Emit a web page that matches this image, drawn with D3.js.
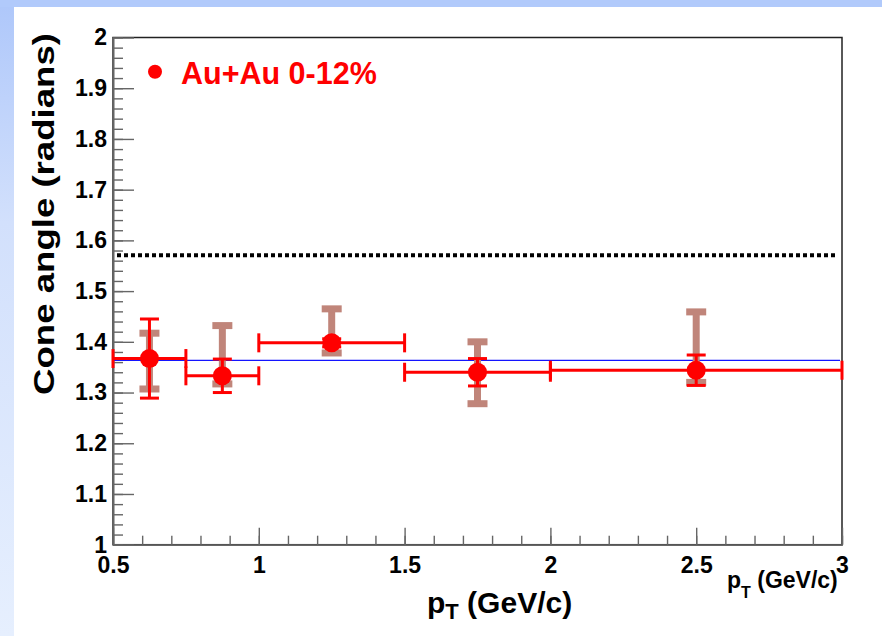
<!DOCTYPE html>
<html>
<head>
<meta charset="utf-8">
<script src="https://cdn.jsdelivr.net/npm/d3@7"></script>
<style>
  html, body { margin: 0; padding: 0; background: #fff; }
  svg { display: block; }
  text { font-family: "Liberation Sans", Arial, Helvetica, sans-serif; }
</style>
</head>
<body>
<svg id="chart" width="882" height="636"></svg>
<script>
// pT bins (GeV/c)
const ptCenter = [0.625, 0.875, 1.25, 1.75, 2.5];
const ptLow    = [0.5, 0.75, 1.0, 1.5, 2.0];
const ptHigh   = [0.75, 1.0, 1.5, 2.0, 3.0];
// cone angle (radians) with statistical and systematic uncertainties
const coneAngle = [1.367, 1.333, 1.398, 1.340, 1.344];
const statErr   = [0.078, 0.033, 0.008, 0.027, 0.030];
const sysUp     = [0.050, 0.099, 0.067, 0.060, 0.115];
const sysDown   = [0.060, 0.016, 0.020, 0.062, 0.024];
// reference lines
const meanAngle = 1.3636;
const halfPi = Math.PI / 2;
// axis ticks
const xTicks = [0.5, 1, 1.5, 2, 2.5, 3];
const xTickLabels = ["0.5", "1", "1.5", "2", "2.5", "3"];
const yTicks = [1, 1.1, 1.2, 1.3, 1.4, 1.5, 1.6, 1.7, 1.8, 1.9, 2];
const yTickLabels = ["1", "1.1", "1.2", "1.3", "1.4", "1.5", "1.6", "1.7", "1.8", "1.9", "2"];
const legendLabel = "Au+Au 0-12%";

const svg = d3.select("#chart");
const W = 882, H = 636;

// slide-style background: bluish border strips around a white canvas
const defs = svg.append("defs");
const grad = defs.append("linearGradient").attr("id", "bg").attr("x1", 0).attr("y1", 0).attr("x2", 0).attr("y2", 1);
grad.append("stop").attr("offset", "0%").attr("stop-color", "#aec7fa");
grad.append("stop").attr("offset", "35%").attr("stop-color", "#d2e0fc");
grad.append("stop").attr("offset", "100%").attr("stop-color", "#e6effe");
svg.append("rect").attr("width", W).attr("height", H).attr("fill", "url(#bg)");
svg.append("rect").attr("x", 0).attr("y", 0).attr("width", W).attr("height", 7).attr("fill", "#b1cafb");
svg.append("rect").attr("x", 14).attr("y", 7).attr("width", W - 14).attr("height", H - 7).attr("fill", "#ffffff");

const plotL = 113, plotR = 842, plotT = 37.5, plotB = 544.7;
const x = d3.scaleLinear().domain([0.5, 3]).range([plotL, plotR]);
const y = d3.scaleLinear().domain([1, 2]).range([plotB, plotT]);

// frame
svg.append("rect")
  .attr("x", plotL).attr("y", plotT).attr("width", plotR - plotL).attr("height", plotB - plotT)
  .attr("fill", "none").attr("stroke", "#222").attr("stroke-width", 1.5);

const axisColor = "#666";
function styleAxis(g) {
  g.select(".domain").attr("stroke", axisColor).attr("stroke-width", 1.6);
  g.selectAll(".tick line").attr("stroke", axisColor).attr("stroke-width", 1.4);
  g.selectAll(".tick text").attr("fill", "#000")
    .attr("font-size", 23).attr("font-weight", "bold");
}

// y axis: minor then major ticks, pointing inward
svg.append("g").attr("transform", `translate(${plotL},0)`)
  .call(d3.axisLeft(y).tickValues(d3.range(1, 2.0001, 0.02)).tickSize(-10).tickSizeOuter(0).tickFormat(""))
  .call(styleAxis);
svg.append("g").attr("transform", `translate(${plotL},0)`)
  .call(d3.axisLeft(y).tickValues(yTicks).tickSize(-21).tickSizeOuter(0).tickPadding(6)
    .tickFormat((d, i) => yTickLabels[i]))
  .call(styleAxis);

// x axis
svg.append("g").attr("transform", `translate(0,${plotB})`)
  .call(d3.axisBottom(x).tickValues(d3.range(0.5, 3.0001, 0.1)).tickSize(-9).tickSizeOuter(0).tickFormat(""))
  .call(styleAxis);
svg.append("g").attr("transform", `translate(0,${plotB})`)
  .call(d3.axisBottom(x).tickValues(xTicks).tickSize(-17).tickSizeOuter(0).tickPadding(12)
    .tickFormat((d, i) => xTickLabels[i]))
  .call(styleAxis);

// pi/2 reference (dotted) and mean (blue)
svg.append("line")
  .attr("x1", x(0.5) + 4).attr("x2", x(3) - 4).attr("y1", y(halfPi)).attr("y2", y(halfPi))
  .attr("stroke", "#000").attr("stroke-width", 4).attr("stroke-dasharray", "4,3");
svg.append("line")
  .attr("x1", x(0.5)).attr("x2", x(3) - 2).attr("y1", y(meanAngle)).attr("y2", y(meanAngle))
  .attr("stroke", "#1414ff").attr("stroke-width", 1.2);

const pts = ptCenter.map((p, i) => ({
  p, lo: ptLow[i], hi: ptHigh[i], v: coneAngle[i], st: statErr[i], su: sysUp[i], sd: sysDown[i]
}));

// systematic uncertainties (brown I-beams)
const sysCol = "#c0857a";
const sys = svg.append("g");
pts.forEach(d => {
  sys.append("line").attr("x1", x(d.p)).attr("x2", x(d.p))
    .attr("y1", y(d.v + d.su)).attr("y2", y(d.v - d.sd))
    .attr("stroke", sysCol).attr("stroke-width", 7);
  [d.v + d.su, d.v - d.sd].forEach(e => {
    sys.append("line").attr("x1", x(d.p) - 10).attr("x2", x(d.p) + 10)
      .attr("y1", y(e)).attr("y2", y(e))
      .attr("stroke", sysCol).attr("stroke-width", 7);
  });
});

// bin widths and statistical errors (red)
const red = "#ff0000";
const eb = svg.append("g");
pts.forEach(d => {
  eb.append("line").attr("x1", x(d.lo)).attr("x2", x(d.hi))
    .attr("y1", y(d.v)).attr("y2", y(d.v)).attr("stroke", red).attr("stroke-width", 3);
  [d.lo, d.hi].forEach(e => {
    eb.append("line").attr("x1", x(e)).attr("x2", x(e))
      .attr("y1", y(d.v) - 9.5).attr("y2", y(d.v) + 9.5).attr("stroke", red).attr("stroke-width", 3);
  });
  eb.append("line").attr("x1", x(d.p)).attr("x2", x(d.p))
    .attr("y1", y(d.v + d.st)).attr("y2", y(d.v - d.st)).attr("stroke", red).attr("stroke-width", 3);
  [d.v + d.st, d.v - d.st].forEach(e => {
    eb.append("line").attr("x1", x(d.p) - 9.5).attr("x2", x(d.p) + 9.5)
      .attr("y1", y(e)).attr("y2", y(e)).attr("stroke", red).attr("stroke-width", 3);
  });
});

// markers
svg.append("g").selectAll("circle").data(pts).join("circle")
  .attr("cx", d => x(d.p)).attr("cy", d => y(d.v)).attr("r", 9.5).attr("fill", red);

// legend
svg.append("circle").attr("cx", 155).attr("cy", 71.7).attr("r", 7).attr("fill", red);
svg.append("text").attr("x", 181).attr("y", 84).attr("font-size", 30.5).attr("font-weight", "bold")
  .attr("fill", red).text(legendLabel);

// axis titles
svg.append("text")
  .attr("transform", "translate(54,395) rotate(-90)")
  .attr("font-size", 30).attr("font-weight", "bold").attr("fill", "#000")
  .attr("textLength", 362).attr("lengthAdjust", "spacingAndGlyphs")
  .text("Cone angle (radians)");

const xt = svg.append("text").attr("x", 427).attr("y", 613)
  .attr("font-size", 30).attr("font-weight", "bold").attr("fill", "#000");
xt.append("tspan").text("p");
xt.append("tspan").attr("font-size", 22).attr("dy", 6).text("T");
xt.append("tspan").attr("dy", -6).text(" (GeV/c)");

const xs = svg.append("text").attr("x", 727).attr("y", 588)
  .attr("font-size", 23).attr("font-weight", "bold").attr("fill", "#000");
xs.append("tspan").text("p");
xs.append("tspan").attr("font-size", 16).attr("dy", 10).text("T");
xs.append("tspan").attr("dy", -10).text(" (GeV/c)");
</script>
</body>
</html>
